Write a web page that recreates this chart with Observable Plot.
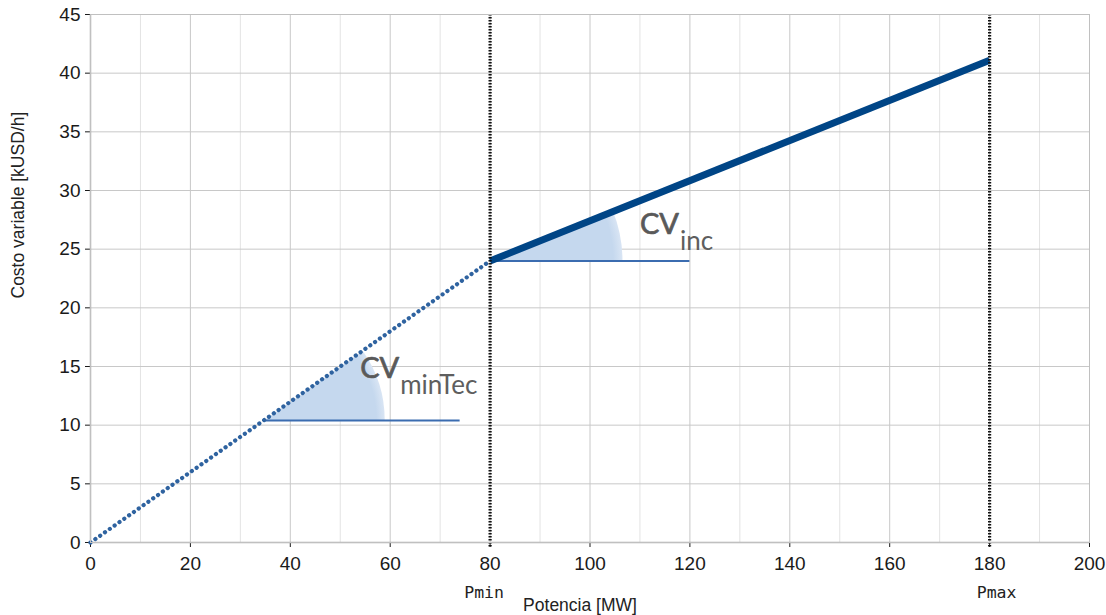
<!DOCTYPE html>
<html><head><meta charset="utf-8">
<script src="https://cdn.jsdelivr.net/npm/d3@7"></script>
<script src="https://cdn.jsdelivr.net/npm/@observablehq/plot@0.6"></script>
<style>body{margin:0;background:#fff}</style>
</head><body><div id="chart"></div>
<script>
// ---- data ----
const xTicks = [0, 20, 40, 60, 80, 100, 120, 140, 160, 180, 200];
const xMinor = [10, 30, 50, 70, 90, 110, 130, 150, 170, 190];
const yTicks = [0, 5, 10, 15, 20, 25, 30, 35, 40, 45];

const tramoMinX = [0, 80];      // dotted segment (below technical minimum)
const tramoMinY = [0, 24];
const tramoIncX = [80, 180];    // thick segment (incremental)
const tramoIncY = [24, 41.1];

const limitesP = [80, 180];
const limitesLabel = ["Pmin", "Pmax"];

const anguloCentroX = [35, 80];
const anguloCentroY = [10.4, 24];
const anguloFinX = [74, 120];
const anguloRadio = [24, 26.6];   // in MW units

const etiquetaX = [54, 110];
const etiquetaY = [14, 26.3];
const etiquetaMain = ["CV", "CV"];
const etiquetaSub = ["minTec", "inc"];

// ---- derived tables ----
const tramoMin = tramoMinX.map((x, i) => ({x, y: tramoMinY[i]}));
const tramoInc = tramoIncX.map((x, i) => ({x, y: tramoIncY[i]}));
const refLines = anguloCentroX.map((x, i) => ({x1: x, x2: anguloFinX[i], y: anguloCentroY[i]}));
const segmentos = [tramoMin, tramoInc];
const etiquetas = etiquetaX.map((x, i) => ({x, y: etiquetaY[i], main: etiquetaMain[i], sub: etiquetaSub[i]}));

// custom wedge mark using the plot's scales
function wedges(index, scales) {
  const {x, y} = scales;
  const g = d3.create("svg:g");
  const defs = g.append("defs");
  anguloCentroX.forEach((cx, i) => {
    const seg = segmentos[i];
    const px0 = x(seg[0].x), py0 = y(seg[0].y), px1 = x(seg[1].x), py1 = y(seg[1].y);
    const theta = Math.atan2(py0 - py1, px1 - px0);
    const r = x(cx + anguloRadio[i]) - x(cx);
    const path = d3.arc()({innerRadius: 0, outerRadius: r, startAngle: Math.PI / 2 - theta, endAngle: Math.PI / 2});
    const gr = defs.append("radialGradient")
      .attr("id", "wedgeFill" + i).attr("gradientUnits", "userSpaceOnUse")
      .attr("cx", 0).attr("cy", 0).attr("r", r);
    gr.append("stop").attr("offset", "0%").attr("stop-color", "#c5d8ee");
    gr.append("stop").attr("offset", "93%").attr("stop-color", "#c5d8ee");
    gr.append("stop").attr("offset", "100%").attr("stop-color", "#d9e5f4");
    g.append("path")
      .attr("d", path)
      .attr("transform", `translate(${x(cx)},${y(anguloCentroY[i])})`)
      .attr("fill", `url(#wedgeFill${i})`);
  });
  return g.node();
}

const chart = Plot.plot({
  width: 1106,
  height: 615,
  marginLeft: 90,
  marginRight: 17,
  marginTop: 14,
  marginBottom: 73,
  style: {fontFamily: "Liberation Sans, Arial, sans-serif", fontSize: "19px", color: "#1a1a1a", background: "#fff"},
  x: {domain: [0, 200], ticks: xTicks, tickSize: 5, tickPadding: 9, label: null},
  y: {domain: [0, 45], ticks: yTicks, tickSize: 5, tickPadding: 5, label: null},
  marks: [
    Plot.ruleX(xMinor, {stroke: "#e3e3e3", strokeWidth: 1}),
    Plot.ruleX(xTicks, {stroke: "#c8c8c8", strokeWidth: 1}),
    Plot.ruleY(yTicks, {stroke: "#c8c8c8", strokeWidth: 1}),
    Plot.ruleX([0], {stroke: "#b0b0b0", strokeWidth: 1.5}),
    Plot.ruleY([0], {stroke: "#b0b0b0", strokeWidth: 1.5}),
    wedges,
    Plot.ruleY(refLines, {x1: "x1", x2: "x2", y: "y", stroke: "#3b6cb0", strokeWidth: 2}),
    Plot.line(tramoMin, {x: "x", y: "y", stroke: "#2f63a0", strokeWidth: 4.2, strokeDasharray: "0.1 5.8", strokeLinecap: "round"}),
    Plot.line(tramoInc, {x: "x", y: "y", stroke: "#004586", strokeWidth: 7, strokeLinecap: "butt"}),
    Plot.ruleX(limitesP, {stroke: "#111", strokeWidth: 3.2, strokeDasharray: "1.6 1.4", insetBottom: -5}),
    Plot.text(etiquetas, {x: "x", y: "y", text: "main", textAnchor: "start", lineAnchor: "bottom", fontFamily: "Lato", fontSize: 29, fill: "#595959", stroke: "#595959", strokeWidth: 0.7}),
    Plot.text(etiquetas, {x: "x", y: "y", text: "sub", textAnchor: "start", lineAnchor: "bottom", dx: 40, dy: 16, fontFamily: "Lato", fontSize: 26, fill: "#5e5e5e"}),
    Plot.text([limitesP[0]], {x: d => d, text: [limitesLabel[0]], frameAnchor: "bottom", lineAnchor: "bottom", dy: 55, dx: -6, fontFamily: "DejaVu Sans Mono", fontSize: 16.5, fill: "#222"}),
    Plot.text([limitesP[1]], {x: d => d, text: [limitesLabel[1]], frameAnchor: "bottom", lineAnchor: "bottom", dy: 55, dx: 7, fontFamily: "DejaVu Sans Mono", fontSize: 16.5, fill: "#222"}),
    Plot.text(["Potencia [MW]"], {text: d => d, frameAnchor: "bottom", lineAnchor: "bottom", dy: 68, dx: -10, fontSize: 17.5, fill: "#222"}),
    Plot.text(["Costo variable [kUSD/h]"], {text: d => d, frameAnchor: "left", rotate: -90, dx: -72, dy: 20, fontSize: 17.5, fill: "#222"}),
    Plot.frame({stroke: "#c0c0c0", strokeWidth: 1})
  ]
});
document.getElementById("chart").appendChild(chart);
</script>
</body></html>
